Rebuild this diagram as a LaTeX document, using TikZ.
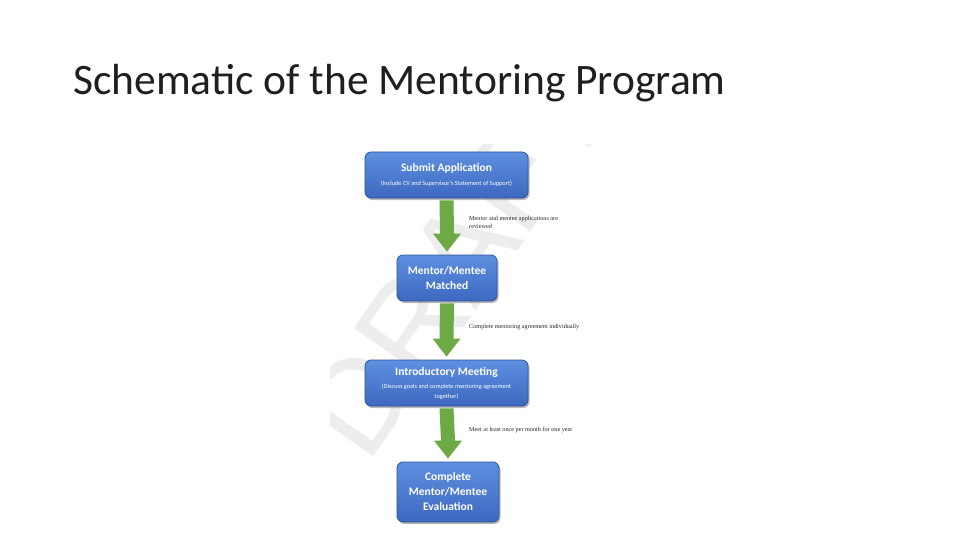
\documentclass[tikz,border=0pt]{standalone}
\usepackage{fontspec}
\setmainfont{Carlito}
\newfontfamily\notefont{Liberation Serif}
\newfontfamily\wmfont{Liberation Sans}
\usetikzlibrary{calc,shadows}
\definecolor{boxtop}{HTML}{5E8FE0}
\definecolor{boxbot}{HTML}{3D69C0}
\definecolor{boxline}{HTML}{2F5597}
\definecolor{arrowgreen}{HTML}{6DAA45}
\newcommand{\bxt}{\bfseries\fontsize{11.5}{15}\selectfont}
\newcommand{\bxs}{\fontsize{6.3}{9}\selectfont}
\tikzset{
  stepbox/.style={draw=boxline, line width=0.8pt, rounded corners=6pt,
    top color=boxtop, bottom color=boxbot, text=white,
    drop shadow={shadow xshift=1.5pt, shadow yshift=-2pt, fill=black!45, opacity=0.6},
    align=center, inner sep=0pt},
  note/.style={font=\notefont\fontsize{6.2}{7.5}\selectfont, anchor=north west, align=left, inner sep=0pt, text=black!85},
}
\newcommand{\fatarrow}[2]{%
  \fill[arrowgreen] ($(#1.south)+(-7,2)$) -- ($(#2.north)+(-7,-21)$) -- ($(#2.north)+(-14,-21)$)
    -- ($(#2.north)+(0,-3)$) -- ($(#2.north)+(14,-21)$) -- ($(#2.north)+(7,-21)$)
    -- ($(#1.south)+(7,2)$) -- cycle;}
\begin{document}
\begin{tikzpicture}[x=1pt,y=-1pt]
\useasboundingbox (0,0) rectangle (960,540);
\fill[white] (0,0) rectangle (960,540);
% watermark
\begin{scope}
\clip (330,145) rectangle (600,530);
\node[rotate=55, text=black!7, font=\wmfont\fontsize{130}{130}\selectfont] (wm) at (455,262) {DRAFT};
\end{scope}
% title
\node[anchor=base west, inner sep=0pt, text=black!88, font=\fontsize{43.5}{50}\selectfont] (title) at (73,95) {Schematic of the Mentoring Program};
% boxes
\node[stepbox, minimum width=163pt, minimum height=46pt] (b1) at (446.5,175)
  {{\bxt Submit Application}\\[2pt]{\bxs (Include CV and Supervisor's Statement of Support)}};
\node[stepbox, font=\bxt, minimum width=100pt, minimum height=46pt] (b2) at (447,278)
  {Mentor/Mentee\\Matched};
\node[stepbox, minimum width=163pt, minimum height=46pt] (b3) at (446.5,383)
  {{\bxt Introductory Meeting}\\[1pt]{\bxs (Discuss goals and complete mentoring agreement}\\[-2pt]{\bxs together)}};
\node[stepbox, font=\bxt, minimum width=102pt, minimum height=60pt] (b4) at (448,492)
  {Complete\\Mentor/Mentee\\Evaluation};
% arrows
\fatarrow{b1}{b2}
\fatarrow{b2}{b3}
\fatarrow{b3}{b4}
% notes
\node[note] (n1) at (469,216) {Mentor and mentee applications are\\reviewed};
\node[note] (n2) at (469,324) {Complete mentoring agreement individually};
\node[note] (n3) at (469,427) {Meet at least once per month for one year};
\end{tikzpicture}
\end{document}
